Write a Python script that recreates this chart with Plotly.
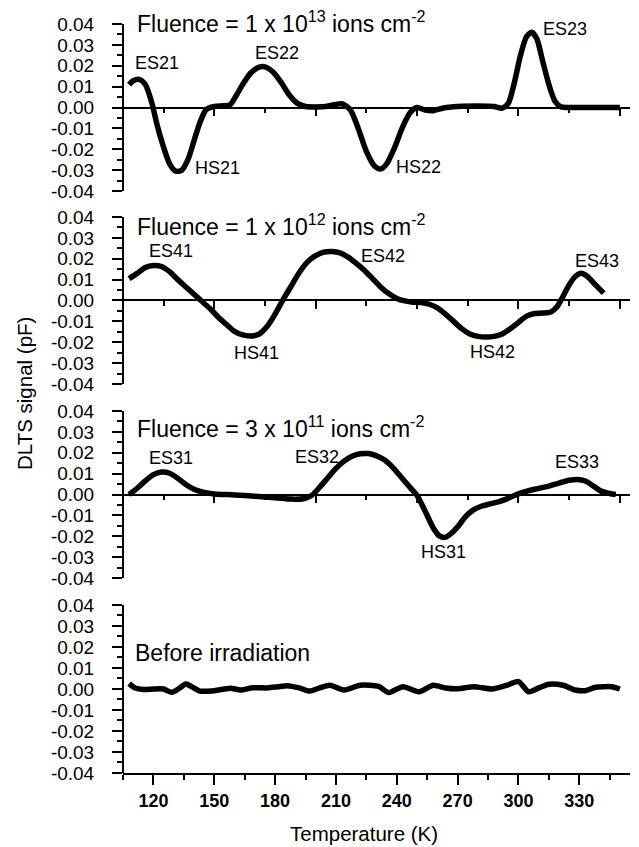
import plotly.graph_objects as go

# ---------------- data ----------------
# Panel 1: Fluence = 1e13 ions cm^-2
temp_1e13 = [108, 110, 113, 116, 119, 122, 125, 128, 131, 134, 137, 140, 143, 146, 150, 155, 158,
             161, 164, 168, 172, 175, 179, 183, 187, 191, 195, 200, 205, 210, 213, 217, 221, 225,
             229, 232, 235, 239, 243, 247, 250, 254, 258, 263, 270, 280, 288, 292, 295, 298, 301,
             304, 306.5, 309, 312, 315, 318, 321, 326, 335, 345, 350]
dlts_1e13 = [0.011, 0.0128, 0.0135, 0.011, 0.003, -0.009, -0.019, -0.027, -0.0305, -0.030, -0.025,
             -0.016, -0.007, -0.001, 0.0005, 0.0008, 0.0015, 0.006, 0.011, 0.0165, 0.0193, 0.0195,
             0.017, 0.012, 0.006, 0.002, 0.0005, 0.0003, 0.0005, 0.0015, 0.0018, -0.001, -0.010,
             -0.021, -0.028, -0.0295, -0.027, -0.019, -0.009, -0.002, 0.0, -0.0012, -0.0015,
             -0.0002, 0.0005, 0.0007, 0.0005, -0.0003, 0.002, 0.012, 0.025, 0.034, 0.036, 0.033,
             0.022, 0.011, 0.003, 0.0003, 0.0, 0.0, 0.0, 0.0]

# Panel 2: Fluence = 1e12 ions cm^-2
temp_1e12 = [108, 112, 116, 120, 124, 128, 132, 136, 140, 144, 148, 152, 156, 160, 164, 168, 172,
             176, 180, 184, 188, 192, 196, 200, 204, 208, 212, 216, 220, 224, 228, 232, 236, 240,
             244, 248, 252, 256, 260, 264, 268, 272, 276, 280, 284, 288, 292, 296, 300, 304, 308,
             312, 316, 319, 322, 325, 328, 331, 334, 338, 342]
dlts_1e12 = [0.0105, 0.013, 0.0158, 0.0168, 0.0163, 0.0138, 0.010, 0.0065, 0.003, -0.0005, -0.004,
             -0.008, -0.0115, -0.0148, -0.0165, -0.017, -0.0162, -0.0125, -0.0065, 0.0005, 0.007,
             0.0135, 0.0185, 0.0215, 0.0232, 0.0235, 0.0228, 0.0208, 0.0178, 0.0145, 0.0105,
             0.0065, 0.0033, 0.001, -0.0002, -0.0008, -0.001, -0.0018, -0.0035, -0.0065, -0.010,
             -0.0135, -0.016, -0.0172, -0.0175, -0.0172, -0.016, -0.0135, -0.0105, -0.0075,
             -0.0062, -0.006, -0.0055, -0.003, 0.002, 0.0075, 0.0115, 0.013, 0.0115, 0.0075, 0.0035]

# Panel 3: Fluence = 3e11 ions cm^-2
temp_3e11 = [108, 112, 116, 120, 124, 128, 132, 136, 140, 145, 150, 160, 170, 180, 188, 194, 198,
             202, 206, 210, 214, 218, 222, 226, 230, 234, 238, 242, 246, 250, 254, 258, 261, 264,
             267, 270, 274, 278, 282, 286, 290, 294, 298, 302, 308, 314, 320, 325, 329, 333, 337,
             341, 345, 348]
dlts_3e11 = [0.0, 0.003, 0.0065, 0.0095, 0.0108, 0.0102, 0.0078, 0.0048, 0.0025, 0.001, 0.0003,
             -0.0002, -0.0008, -0.0015, -0.0022, -0.002, -0.0005, 0.0035, 0.008, 0.0125, 0.016,
             0.0183, 0.0195, 0.0196, 0.0185, 0.0165, 0.013, 0.0085, 0.004, -0.0005, -0.008, -0.016,
             -0.0198, -0.0205, -0.0185, -0.0155, -0.0105, -0.0072, -0.0055, -0.0045, -0.0035,
             -0.0022, -0.0005, 0.001, 0.0025, 0.0038, 0.0055, 0.0068, 0.0072, 0.0065, 0.004,
             0.0015, 0.0005, 0.0]

# Panel 4: Before irradiation
temp_before = [108, 111, 115, 120, 125, 129, 133, 136, 139, 143, 150, 155, 158, 163, 169, 176, 181,
               186, 192, 197, 202, 207, 214, 222, 231, 236, 243, 251, 258, 264, 270, 278, 287, 294,
               300, 305, 310, 315, 322, 328, 333, 338, 346, 350]
dlts_before = [0.0026, 0.0005, -0.0002, 0.0, 0.0, -0.0016, 0.0005, 0.0024, 0.001, -0.001, -0.0008,
               0.0, 0.0004, -0.0005, 0.0006, 0.0005, 0.001, 0.0016, 0.0005, -0.001, 0.0005, 0.0018,
               -0.0005, 0.0018, 0.0012, -0.0017, 0.0011, -0.0013, 0.0018, 0.0005, 0.0001, 0.0011,
               0.0, 0.0017, 0.0035, -0.0013, 0.0005, 0.0023, 0.0018, -0.0005, -0.0008, 0.0008,
               0.0011, 0.0]

# Panel titles (paper coordinates)
panel_titles = ["Fluence = 1 x 10<sup>13</sup> ions cm<sup>-2</sup>",
                "Fluence = 1 x 10<sup>12</sup> ions cm<sup>-2</sup>",
                "Fluence = 3 x 10<sup>11</sup> ions cm<sup>-2</sup>",
                "Before irradiation"]
panel_title_x = [0.0237, 0.0237, 0.0237, 0.0203]
panel_title_y = [1.0027, 0.7316, 0.4624, 0.1598]

# Peak labels: (panel index, label, temperature, signal)
peak_panel = [0, 0, 0, 0, 0, 1, 1, 1, 1, 1, 2, 2, 2, 2]
peak_text = ["ES21", "HS21", "ES22", "HS22", "ES23",
             "ES41", "HS41", "ES42", "HS42", "ES43",
             "ES31", "ES32", "HS31", "ES33"]
peak_temp = [121.8, 151.6, 180.9, 250.5, 323.0,
             128.5, 171.0, 233.2, 287.4, 338.7,
             128.7, 200.7, 262.9, 328.8]
peak_sig = [0.0213, -0.029, 0.0261, -0.0285, 0.0376,
            0.0235, -0.0254, 0.0211, -0.0249, 0.0188,
            0.0176, 0.018, -0.0275, 0.0157]

y_tick_vals = [-0.04, -0.03, -0.02, -0.01, 0.0, 0.01, 0.02, 0.03, 0.04]
y_tick_text = ["-0.04", "-0.03", "-0.02", "-0.01", "0.00", "0.01", "0.02", "0.03", "0.04"]
x_tick_vals = [120, 150, 180, 210, 240, 270, 300, 330]

# ---------------- figure ----------------
FONT = "Liberation Sans, Arial, sans-serif"
series = [(temp_1e13, dlts_1e13), (temp_1e12, dlts_1e12), (temp_3e11, dlts_3e11),
          (temp_before, dlts_before)]
domains = [[0.7770, 1.0], [0.5194, 0.7423], [0.2603, 0.4833], [0.0, 0.2243]]

fig = go.Figure()
layout = {}
for i, (tx, sy) in enumerate(series):
    n = i + 1
    xa = "x" if n == 1 else f"x{n}"
    ya = "y" if n == 1 else f"y{n}"
    fig.add_trace(go.Scatter(x=tx, y=sy, xaxis=xa, yaxis=ya, mode="lines",
                             line=dict(color="black", width=5.5, shape="spline", smoothing=0.7),
                             showlegend=False, hoverinfo="skip"))
    yname = "yaxis" if n == 1 else f"yaxis{n}"
    xname = "xaxis" if n == 1 else f"xaxis{n}"
    layout[yname] = dict(domain=domains[i], range=[-0.04, 0.04], anchor="free", position=0,
                         showline=True, linecolor="black", linewidth=2, showgrid=False,
                         zeroline=False, ticks="outside", ticklen=10, tickwidth=2,
                         tickcolor="black", tickvals=y_tick_vals, ticktext=y_tick_text,
                         tickfont=dict(family=FONT, size=19, color="black"),
                         ticklabelstandoff=14,
                         minor=dict(tickvals=[v + 0.005 for v in y_tick_vals[:-1]],
                                    ticks="outside", ticklen=5, tickwidth=2,
                                    tickcolor="black", showgrid=False))
    if n < 4:
        mid = (domains[i][0] + domains[i][1]) / 2
        layout[xname] = dict(range=[105, 355], anchor="free", position=mid, showline=True,
                             linecolor="black", linewidth=1.6, showgrid=False, zeroline=False,
                             ticks="outside", ticklen=8, tickwidth=1.6, tickcolor="black",
                             tickvals=[150, 200, 250, 300, 350], showticklabels=False,
                             minor=dict(tickvals=[125, 175, 225, 275, 325], ticks="outside",
                                        ticklen=5, tickwidth=1.6, tickcolor="black",
                                        showgrid=False))
    else:
        layout[xname] = dict(range=[105, 355], anchor=ya, showline=True, linecolor="black",
                             linewidth=2, showgrid=False, zeroline=False, ticks="outside",
                             ticklen=10, tickwidth=2, tickcolor="black", tickvals=x_tick_vals,
                             tickfont=dict(family=FONT, size=18, color="black", weight="bold"),
                             ticklabelstandoff=0,
                             minor=dict(tickvals=[105 + 30 * k for k in range(9)],
                                        ticks="outside", ticklen=5, tickwidth=2,
                                        tickcolor="black", showgrid=False))

annotations = []
for i in range(4):
    annotations.append(dict(text=panel_titles[i], x=panel_title_x[i], y=panel_title_y[i],
                            xref="paper", yref="paper",
                            xanchor="left", yanchor="middle", showarrow=False,
                            font=dict(family=FONT, size=23, color="black")))
for p, t, xv, yv in zip(peak_panel, peak_text, peak_temp, peak_sig):
    n = p + 1
    annotations.append(dict(text=t, x=xv, y=yv,
                            xref="x" if n == 1 else f"x{n}", yref="y" if n == 1 else f"y{n}",
                            xanchor="center", yanchor="middle", showarrow=False,
                            font=dict(family=FONT, size=18, color="black")))
annotations.append(dict(text="DLTS signal (pF)", x=-0.1953, y=0.5073, xref="paper", yref="paper",
                        textangle=-90, showarrow=False, xanchor="center", yanchor="middle",
                        font=dict(family=FONT, size=20.5, color="black")))
annotations.append(dict(text="Temperature (K)", x=0.4753, y=-0.0814, xref="paper", yref="paper",
                        showarrow=False, xanchor="center", yanchor="middle",
                        font=dict(family=FONT, size=20.5, color="black")))

fig.update_layout(width=639, height=847, margin=dict(l=123, r=9, t=24, b=74),
                  paper_bgcolor="white", plot_bgcolor="white", annotations=annotations,
                  font=dict(family=FONT, color="black"), **layout)
fig.write_html("out.html", config={"displayModeBar": False},
               post_script="document.body.style.margin='0';document.body.style.overflow='hidden';")
